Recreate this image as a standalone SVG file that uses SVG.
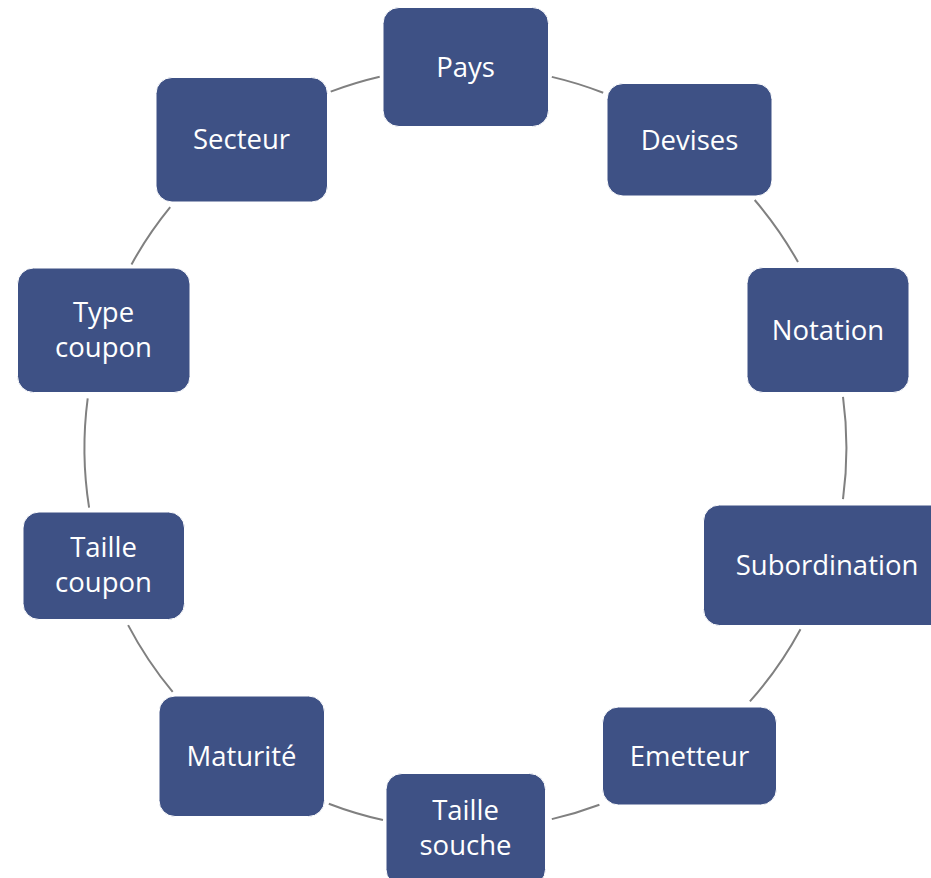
<svg xmlns="http://www.w3.org/2000/svg" width="931" height="878" viewBox="0 0 931 878">
<style>
.box{fill:#3E5185;stroke:#ffffff;stroke-width:1}
.lbl{font-family:"Open Sans","Liberation Sans",sans-serif;font-size:27.5px;fill:#ffffff;text-anchor:middle}
.con{fill:none;stroke:#808080;stroke-width:2}
</style>
<rect width="931" height="878" fill="#ffffff"/>
<g id="connectors">
<path class="con" d="M551.8,76.9 A381,381 0 0 1 603.2,92.8"/>
<path class="con" d="M754.7,200 A381,381 0 0 1 798,262.1"/>
<path class="con" d="M843,396.9 A381,381 0 0 1 843,499.1"/>
<path class="con" d="M800.5,629.2 A381,381 0 0 1 749.9,701.4"/>
<path class="con" d="M599.4,804.7 A381,381 0 0 1 551.8,819.1"/>
<path class="con" d="M383,820 A381,381 0 0 1 328.8,803.7"/>
<path class="con" d="M172.7,691.9 A381,381 0 0 1 128.1,625.1"/>
<path class="con" d="M89.1,507.6 A381,381 0 0 1 87.7,398.3"/>
<path class="con" d="M131.5,264.4 A381,381 0 0 1 170.2,207.2"/>
<path class="con" d="M330.7,91.6 A381,381 0 0 1 379.7,76.7"/>
</g>
<g id="pays">
<rect class="box" x="383" y="7.5" width="165.5" height="119" rx="16"/>
<text class="lbl" x="465.5" y="76.5">Pays</text>
</g>
<g id="devises">
<rect class="box" x="607" y="83.5" width="165" height="112.5" rx="16"/>
<text class="lbl" x="689.5" y="149.5">Devises</text>
</g>
<g id="notation">
<rect class="box" x="747" y="267.5" width="162" height="125" rx="16"/>
<text class="lbl" x="828" y="339.5">Notation</text>
</g>
<g id="subordination">
<rect class="box" x="703.5" y="505" width="247" height="120.5" rx="16"/>
<text class="lbl" x="827" y="575">Subordination</text>
</g>
<g id="emetteur">
<rect class="box" x="602.5" y="707" width="174" height="98" rx="16"/>
<text class="lbl" x="689.5" y="765.5">Emetteur</text>
</g>
<g id="taille-souche">
<rect class="box" x="386" y="773.5" width="159.5" height="112" rx="16"/>
<text class="lbl" x="465.5" y="820">Taille</text>
<text class="lbl" x="465.5" y="854.5">souche</text>
</g>
<g id="maturite">
<rect class="box" x="159" y="696" width="165.5" height="120.5" rx="16"/>
<text class="lbl" x="241.5" y="765.5">Maturité</text>
</g>
<g id="taille-coupon">
<rect class="box" x="23" y="512" width="161.5" height="107.5" rx="16"/>
<text class="lbl" x="103.5" y="557">Taille</text>
<text class="lbl" x="103.5" y="592">coupon</text>
</g>
<g id="type-coupon">
<rect class="box" x="17.5" y="268" width="172.5" height="124.5" rx="16"/>
<text class="lbl" x="103.5" y="322">Type</text>
<text class="lbl" x="103.5" y="357">coupon</text>
</g>
<g id="secteur">
<rect class="box" x="156" y="77.5" width="171.5" height="124.5" rx="16"/>
<text class="lbl" x="241.5" y="149">Secteur</text>
</g>
</svg>
